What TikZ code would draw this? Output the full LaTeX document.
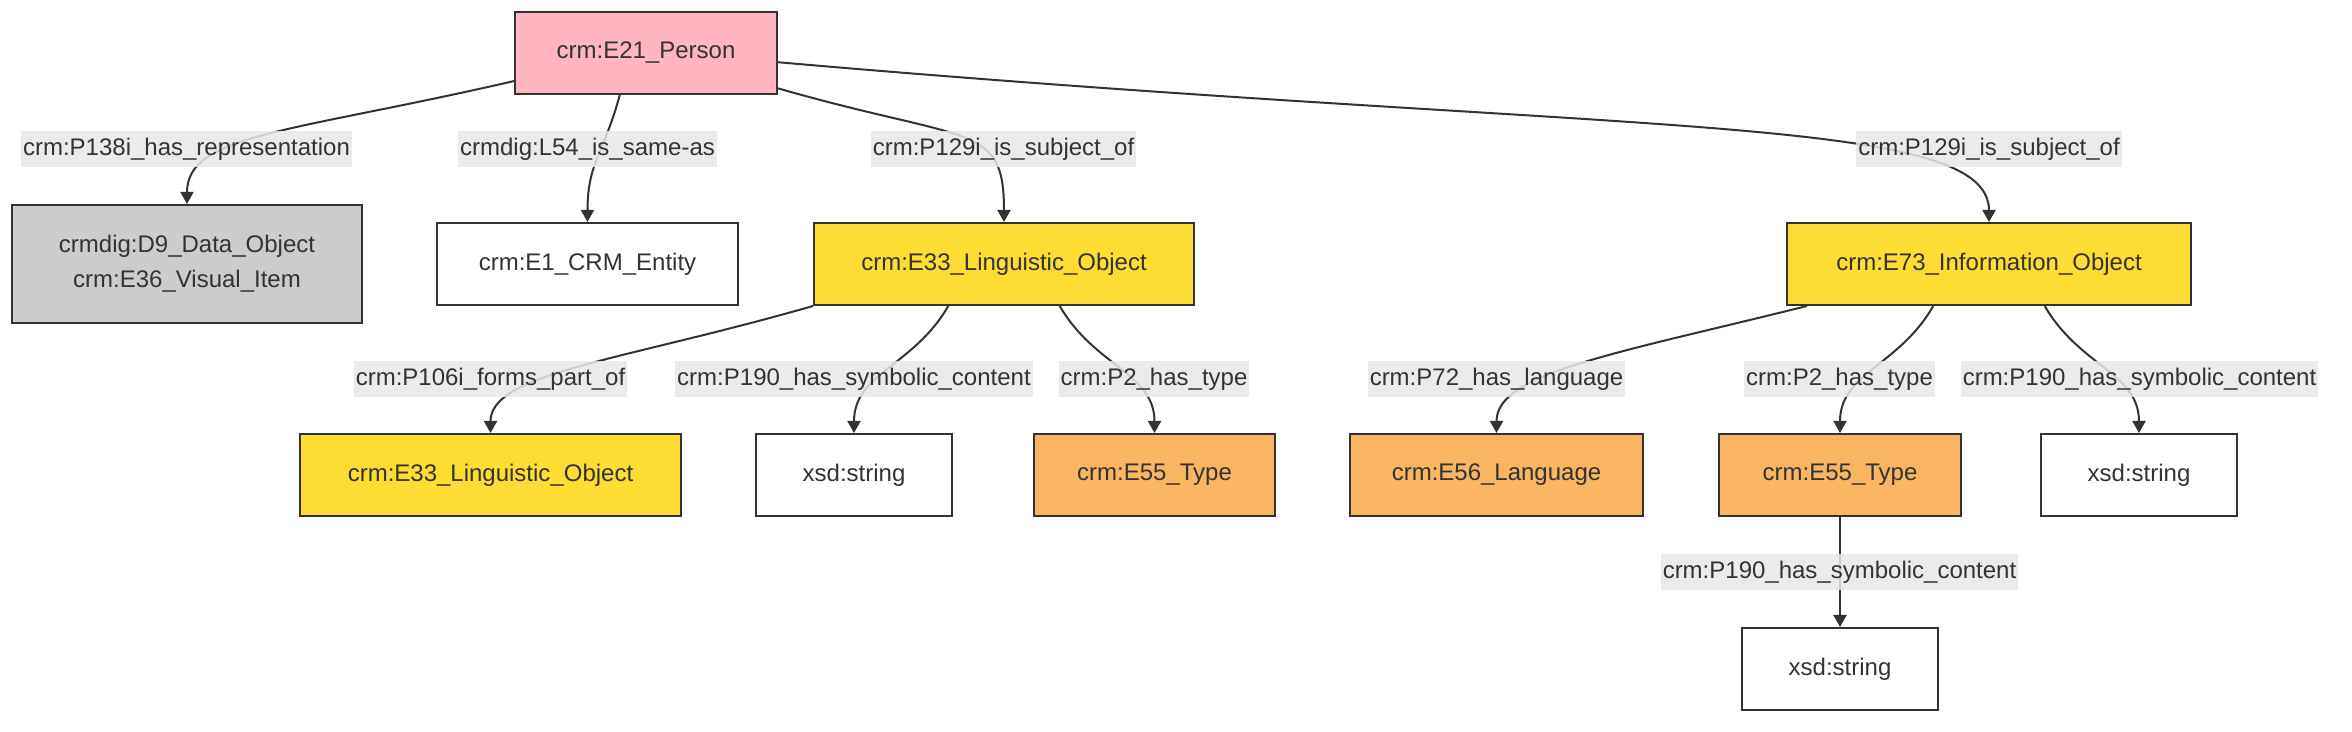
\documentclass[tikz,border=0pt]{standalone}
\usepackage{fontspec}
\setmainfont{Liberation Sans}
\usetikzlibrary{arrows.meta, positioning}
\definecolor{personpink}{HTML}{FFB6C1}
\definecolor{objyellow}{HTML}{FDDD33}
\definecolor{typeorange}{HTML}{FAB563}
\definecolor{dataGray}{HTML}{CCCCCC}
\definecolor{lblgray}{HTML}{E8E8E8}
\definecolor{inkdark}{HTML}{333333}
\begin{document}
\begin{tikzpicture}[x=0.5pt, y=0.5pt,
    every node/.style={font=\fontsize{12pt}{17.5pt}\selectfont, text=inkdark},
    cls/.style={draw=inkdark, line width=1pt, minimum height=41pt, inner sep=0pt, align=center},
    rel/.style={draw=inkdark, line width=1pt, -{Triangle[length=6pt, width=6.5pt]}},
    lbl/.style={fill=lblgray, fill opacity=0.85, text opacity=1, inner xsep=1pt, inner ysep=0pt, minimum height=18pt}]
    \useasboundingbox (0,0) rectangle (2352,732);
    % classes
    \node[cls, fill=personpink, minimum width=131pt] (person) at (646,679) {crm:E21\_Person};
    \node[cls, fill=dataGray, minimum width=175pt, minimum height=59pt] (d9) at (187,468) {crmdig:D9\_Data\_Object\\crm:E36\_Visual\_Item};
    \node[cls, fill=white, minimum width=150.5pt] (e1) at (587.5,468) {crm:E1\_CRM\_Entity};
    \node[cls, fill=objyellow, minimum width=190pt] (lingobj) at (1004,468) {crm:E33\_Linguistic\_Object};
    \node[cls, fill=objyellow, minimum width=202pt] (infobj) at (1989,468) {crm:E73\_Information\_Object};
    \node[cls, fill=objyellow, minimum width=190.5pt] (lingpart) at (490.5,257) {crm:E33\_Linguistic\_Object};
    \node[cls, fill=white, minimum width=98pt] (strA) at (854,257) {xsd:string};
    \node[cls, fill=typeorange, minimum width=120.5pt] (typeA) at (1154.5,257) {crm:E55\_Type};
    \node[cls, fill=typeorange, minimum width=146.5pt] (lang) at (1496.5,257) {crm:E56\_Language};
    \node[cls, fill=typeorange, minimum width=121pt] (typeB) at (1840,257) {crm:E55\_Type};
    \node[cls, fill=white, minimum width=98pt] (strB) at (2139,257) {xsd:string};
    \node[cls, fill=white, minimum width=98pt] (strC) at (1840,63) {xsd:string};
    % properties
    \draw[rel] (person.192) .. controls +(193:230) and +(90:70) .. (d9.north);
    \draw[rel] (person.238) .. controls +(-105:60) and +(90:60) .. (e1.north);
    \draw[rel] (person.-15) .. controls +(-16:200) and +(90:100) .. (lingobj.north);
    \draw[rel] (person.-4) .. controls +(-5:850) and +(90:110) .. (infobj.north);
    \draw[rel] (lingobj.south west) .. controls +(196:200) and +(90:60) .. (lingpart.north);
    \draw[rel] (lingobj.217) .. controls +(240:70) and +(90:60) .. (strA.north);
    \draw[rel] (lingobj.-37) .. controls +(-60:70) and +(90:60) .. (typeA.north);
    \draw[rel] (infobj.193) .. controls +(194:200) and +(90:60) .. (lang.north);
    \draw[rel] (infobj.217) .. controls +(240:70) and +(90:60) .. (typeB.north);
    \draw[rel] (infobj.-37) .. controls +(-60:70) and +(90:60) .. (strB.north);
    \draw[rel] (typeB) -- (strC);
    % labels
    \node[lbl] (lblRep) at (186.5,583) {crm:P138i\_has\_representation};
    \node[lbl] (lblSame) at (587.5,583) {crmdig:L54\_is\_same-as};
    \node[lbl] (lblSubjA) at (1003.5,583) {crm:P129i\_is\_subject\_of};
    \node[lbl] (lblSubjB) at (1989,583) {crm:P129i\_is\_subject\_of};
    \node[lbl] (lblPart) at (490.5,353) {crm:P106i\_forms\_part\_of};
    \node[lbl] (lblSymA) at (854,353) {crm:P190\_has\_symbolic\_content};
    \node[lbl] (lblTypeA) at (1154,353) {crm:P2\_has\_type};
    \node[lbl] (lblLang) at (1496.5,353) {crm:P72\_has\_language};
    \node[lbl] (lblTypeB) at (1839.5,353) {crm:P2\_has\_type};
    \node[lbl] (lblSymB) at (2139.5,353) {crm:P190\_has\_symbolic\_content};
    \node[lbl] (lblSymC) at (1839.5,160) {crm:P190\_has\_symbolic\_content};
\end{tikzpicture}
\end{document}
